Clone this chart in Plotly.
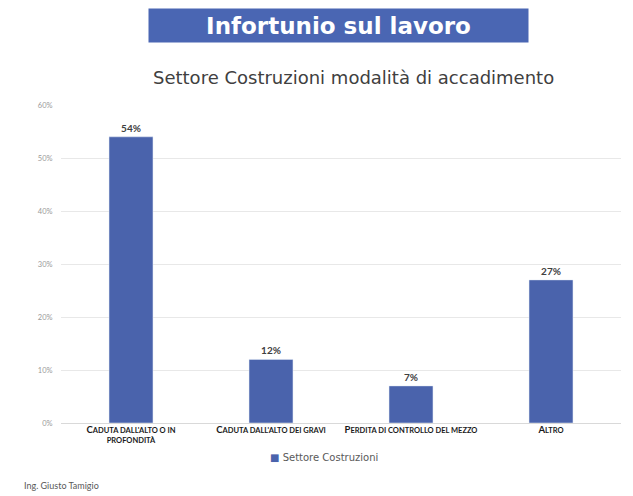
import plotly.graph_objects as go

categories = [
    "<b><span style='font-size:9.5px'>C</span>ADUTA DALL'ALTO O IN<br>PROFONDITÀ</b>",
    "<b><span style='font-size:9.5px'>C</span>ADUTA DALL'ALTO DEI GRAVI</b>",
    "<b><span style='font-size:9.5px'>P</span>ERDITA DI CONTROLLO DEL MEZZO</b>",
    "<b><span style='font-size:9.5px'>A</span>LTRO</b>",
]
values = [0.54, 0.12, 0.07, 0.27]
labels = ["54%", "12%", "7%", "27%"]
series_name = "Settore Costruzioni"
tick_vals = [0, 0.1, 0.2, 0.3, 0.4, 0.5, 0.6]
tick_text = ["0%", "10%", "20%", "30%", "40%", "50%", "60%"]

BAR = "#4a63ac"
FONT = "Lato, 'DejaVu Sans', sans-serif"
WIDE = "'DejaVu Sans', sans-serif"

fig = go.Figure()
fig.add_trace(go.Bar(
    x=categories, y=values, name=series_name, marker_color=BAR,
    text=["<b>" + t + "</b>" for t in labels], textposition="outside",
    textfont=dict(size=10, color="#404040", family=FONT),
    cliponaxis=False, showlegend=False,
))

fig.update_layout(
    width=633, height=496,
    margin=dict(l=61, r=12, t=105, b=73),
    paper_bgcolor="white", plot_bgcolor="white",
    font=dict(family=FONT),
    bargap=0.686,
    xaxis=dict(
        showgrid=False, showline=True, linecolor="#d9d9d9", linewidth=1,
        ticks="", tickfont=dict(size=7.5, color="#1a1a1a", family=FONT),
        tickangle=0,
    ),
    yaxis=dict(
        range=[0, 0.6], tickvals=tick_vals, ticktext=tick_text,
        showgrid=True, gridcolor="#e8e8e8", gridwidth=1,
        zeroline=False, showline=False,
        tickfont=dict(size=7.5, color="#9a9a9a", family=FONT),
        ticks="outside", ticklen=6, tickcolor="rgba(0,0,0,0)",
    ),
    annotations=[
        dict(text="<b>Infortunio sul lavoro</b>", xref="paper", yref="paper",
             x=(338.5 - 61) / 560, y=1 + (105 - 25.5) / 318,
             xanchor="center", yanchor="middle", showarrow=False,
             width=377, height=31, bgcolor="#4a66b3",
             font=dict(size=23, color="white", family=WIDE)),
        dict(text="Settore Costruzioni modalità di accadimento", xref="paper", yref="paper",
             x=(353 - 61) / 560, y=1 + (105 - 77) / 318,
             xanchor="center", yanchor="middle", showarrow=False,
             font=dict(size=18, color="#404040", family=WIDE)),
        dict(text="<span style='color:%s'>■</span> %s" % (BAR, series_name),
             xref="paper", yref="paper",
             x=(324 - 61) / 560, y=-(457 - 423) / 318,
             xanchor="center", yanchor="middle", showarrow=False,
             font=dict(size=10, color="#595959", family=WIDE)),
        dict(text="Ing. Giusto Tamigio", xref="paper", yref="paper",
             x=(22 - 61) / 560, y=-(485 - 423) / 318,
             xanchor="left", yanchor="middle", showarrow=False,
             font=dict(size=9, color="#595959", family=FONT)),
    ],
)

fig.write_html("out.html")
